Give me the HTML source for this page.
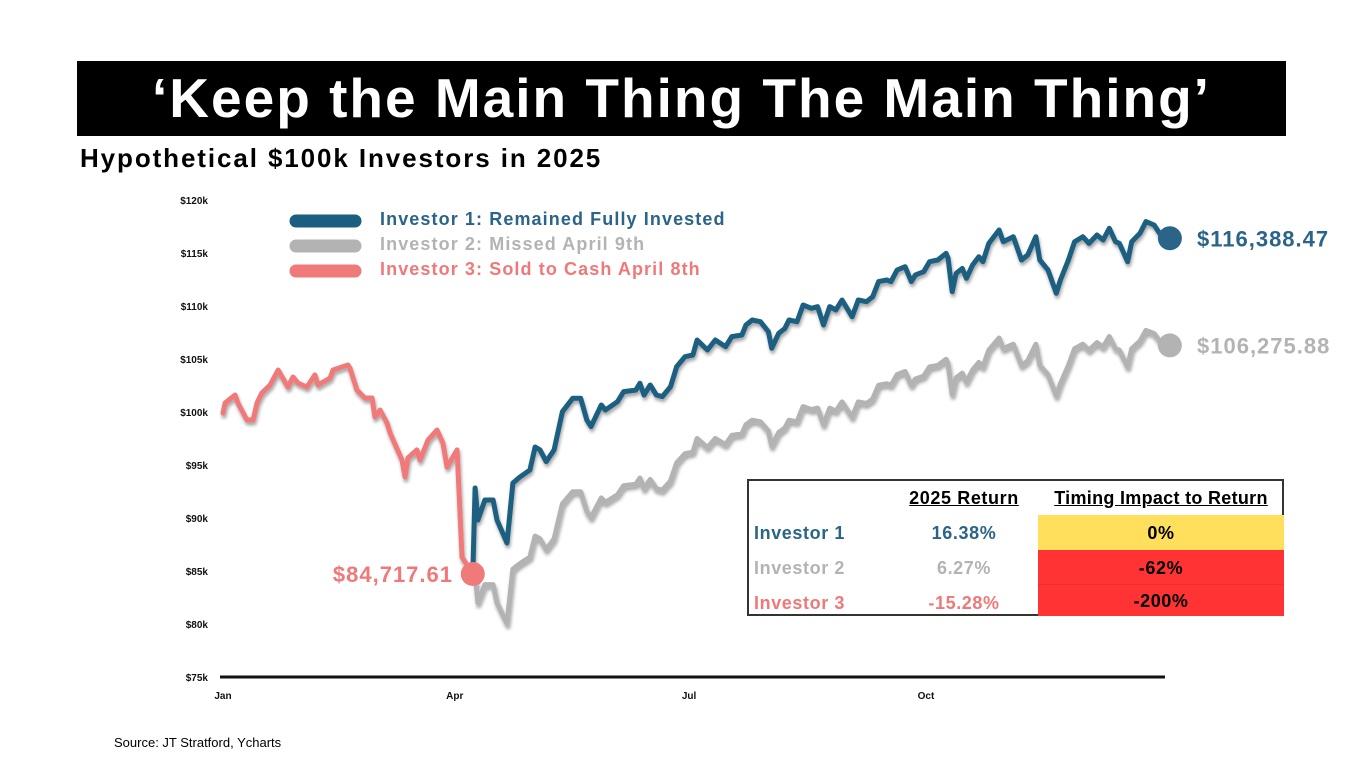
<!DOCTYPE html>
<html><head><meta charset="utf-8"><style>
body{margin:0;background:#fff;width:1363px;height:766px;overflow:hidden;position:relative;font-family:"Liberation Sans",sans-serif}
.abs{position:absolute}
#tbl{position:absolute;left:747px;top:479px;width:537px;height:137px;border:2px solid #333;box-sizing:border-box}
.cell{position:absolute;font-weight:bold;font-size:18px;line-height:35px;letter-spacing:0.6px;white-space:nowrap}
</style></head><body>
<div class="abs" style="left:77px;top:61px;width:1209px;height:75px;background:#000;color:#fff;font-weight:bold;font-size:55px;text-align:center;line-height:75px;letter-spacing:2px">‘Keep the Main Thing The Main Thing’</div>
<div class="abs" style="left:80px;top:143px;font-weight:bold;font-size:26px;letter-spacing:1.9px;color:#000">Hypothetical $100k Investors in 2025</div>
<svg class="abs" style="left:0;top:0" width="1363" height="766" id="chart">
<defs><filter id="sh" x="-5%" y="-5%" width="110%" height="115%"><feDropShadow dx="1" dy="3" stdDeviation="1.5" flood-color="#000" flood-opacity="0.35"/></filter></defs>
</svg>
<div id="tbl">
<div class="cell" style="left:145px;width:140px;text-align:center;top:0;text-decoration:underline">2025 Return</div>
<div class="cell" style="left:286px;width:252px;text-align:center;top:0;text-decoration:underline;letter-spacing:0.3px">Timing Impact to Return</div>
<div class="abs" style="left:289px;top:34px;width:246px;height:35px;background:#ffdf5c"></div>
<div class="abs" style="left:289px;top:69px;width:246px;height:35px;background:#ff3333;border-bottom:1px solid #e83030;box-sizing:border-box"></div>
<div class="abs" style="left:289px;top:104px;width:246px;height:31px;background:#ff3333"></div>
<div class="cell" style="left:5px;top:35px;color:#2a6488">Investor 1</div>
<div class="cell" style="left:5px;top:70px;color:#b3b3b3">Investor 2</div>
<div class="cell" style="left:5px;top:105px;color:#f07878">Investor 3</div>
<div class="cell" style="left:150px;width:130px;text-align:center;top:35px;color:#2a6488">16.38%</div>
<div class="cell" style="left:150px;width:130px;text-align:center;top:70px;color:#b3b3b3">6.27%</div>
<div class="cell" style="left:150px;width:130px;text-align:center;top:105px;color:#f07878">-15.28%</div>
<div class="cell" style="left:289px;width:246px;text-align:center;top:35px">0%</div>
<div class="cell" style="left:289px;width:246px;text-align:center;top:70px">-62%</div>
<div class="cell" style="left:289px;width:246px;text-align:center;top:103px">-200%</div>
</div>
<div class="abs" style="left:114px;top:735px;font-size:13px;color:#000">Source: JT Stratford, Ycharts</div>
<script>
const yTicks=[120,115,110,105,100,95,90,85,80,75];
const xTickLabels=["Jan","Apr","Jul","Oct"];
const xTickDays=[0,90,181,273];
const pinkDays=[0,0.8,4.7,5.8,9.3,11.7,13.2,15.1,18.3,21.4,25.2,27.2,29.1,32.6,35.7,36.9,41.6,42.7,48.5,49.3,52,55.1,57.9,59,61,63.7,64.9,69.5,70.7,71.8,75.3,76.5,79.6,83.1,85.4,87,90.9,92.8,97];
const pinkVals=[99.9,100.85,101.6,100.85,99.25,99.25,100.85,101.8,102.55,103.96,102.36,103.3,102.74,102.36,103.5,102.55,103.2,103.96,104.43,104.15,102.08,101.32,101.32,99.53,100.19,98.96,98.02,95.47,93.87,95.66,96.42,95.47,97.36,98.3,97.08,94.81,96.42,86.3,84.72];
const blueDays=[97,97.9,99,101.7,104.9,106.4,110.3,112.6,115.3,119.2,121.2,123.1,125.5,128.6,131.8,135.8,138.9,141.3,142.9,146.9,148.5,153.2,155.6,160.3,161.9,163.5,165.9,168.3,170.6,173.8,176.2,179.4,182.5,184.1,188.1,191.2,195.2,197.6,201.5,203.1,205.5,208.7,211.8,213.1,215.8,218.2,219.8,222.9,225.3,228.5,230.9,233.2,235.6,238,240.4,244.3,246.7,249.9,252.3,254.6,257.8,259.4,261.8,264.9,267.3,268.9,272.1,274.4,277.6,280.8,281.6,283.2,284.7,287.1,288.7,291.1,293.5,295.1,297.4,301.4,303,306.9,310.1,312.5,315.7,317.2,320.4,323.6,325.2,328.3,330.7,333.9,336.3,339.4,341.8,344.2,346.6,348.1,351.3,352.9,356.1,358.4,361.6,365];
const blueVals=[84.72,92.83,89.81,91.7,91.7,89.81,87.64,93.3,93.87,94.53,96.7,96.42,95.32,96.42,100.03,101.29,101.29,99.25,98.62,100.66,100.19,100.97,101.92,102.07,102.71,101.6,102.55,101.6,101.45,102.39,104.28,105.22,105.38,106.79,105.85,106.79,106.16,107.11,107.26,108.21,108.68,108.52,107.58,106.01,107.42,107.89,108.68,108.52,110.09,109.78,109.94,108.21,109.94,109.62,110.57,108.99,110.57,110.41,110.88,112.3,112.45,112.3,113.4,113.71,112.3,112.93,113.24,114.18,114.34,114.97,114.5,111.35,113.08,113.55,112.61,113.87,114.65,114.18,115.91,117.17,116.07,116.54,114.34,114.81,116.54,114.34,113.4,111.2,112.45,114.34,116.07,116.54,115.91,116.7,116.23,117.33,116.07,115.91,114.18,116.07,116.86,117.96,117.64,116.39];
const grayVals=[84.72,84.75,82.0,83.72,83.72,82.0,80.02,85.18,85.7,86.31,88.29,88.03,87.03,88.03,91.33,92.48,92.48,90.62,90.04,91.9,91.47,92.19,93.05,93.19,93.77,92.76,93.63,92.76,92.62,93.48,95.21,96.07,96.21,97.5,96.64,97.5,96.92,97.79,97.93,98.8,99.23,99.08,98.22,96.79,98.07,98.5,99.23,99.08,100.51,100.23,100.37,98.8,100.37,100.08,100.95,99.51,100.95,100.8,101.23,102.53,102.67,102.53,103.53,103.82,102.53,103.11,103.39,104.25,104.39,104.97,104.54,101.66,103.24,103.67,102.81,103.96,104.68,104.25,105.83,106.98,105.97,106.4,104.39,104.82,106.4,104.39,103.53,101.53,102.67,104.39,105.97,106.4,105.83,106.55,106.12,107.12,105.97,105.83,104.25,105.97,106.69,107.7,107.4,106.28];
const legendLabels=["Investor 1: Remained Fully Invested","Investor 2: Missed April 9th","Investor 3: Sold to Cash April 8th"];
const endLabels=["$116,388.47","$106,275.88","$84,717.61"];
const C={blue:"#1a5e80",gray:"#b3b3b3",pink:"#f07a7a"};
const X=d=>223+d*2.575, Y=v=>200+(120-v)*10.6;
const svg=document.getElementById('chart'),NS="http://www.w3.org/2000/svg";
function mk(t,a){const e=document.createElementNS(NS,t);for(const k in a)e.setAttribute(k,a[k]);svg.appendChild(e);return e;}
yTicks.forEach(v=>{const t=mk('text',{x:208,y:Y(v)+4,'text-anchor':'end','font-size':10,'font-weight':'bold',fill:'#111'});t.textContent='$'+v+'k';

});
const ax=mk('line',{x1:220,x2:1165,y1:Y(75),y2:Y(75),stroke:'#111','stroke-width':3});


xTickLabels.forEach((l,i)=>{const t=mk('text',{x:X(xTickDays[i]),y:699,'text-anchor':'middle','font-size':10,'font-weight':'bold',fill:'#111'});t.textContent=l;

});
function line(days,vals,col,name){const p=mk('path',{d:days.map((d,i)=>(i?'L':'M')+X(d).toFixed(1)+','+Y(vals[i]).toFixed(1)).join(''),fill:'none',stroke:col,'stroke-width':5,'stroke-linejoin':'round','stroke-linecap':'round',filter:'url(#sh)'});

}
line(blueDays,grayVals,C.gray,'investor-2-line');
line(blueDays,blueVals,C.blue,'investor-1-line');
line(pinkDays,pinkVals,C.pink,'investor-3-line');
const ends=[[blueDays[blueDays.length-1],blueVals[blueVals.length-1],C.blue,1197,'start','#2a6488'],[blueDays[blueDays.length-1],grayVals[grayVals.length-1],C.gray,1197,'start','#b3b3b3'],[pinkDays[pinkDays.length-1],pinkVals[pinkVals.length-1],C.pink,453,'end','#f07878']];
ends.forEach((e,i)=>{const c=mk('circle',{cx:X(e[0])+(i<2?7:0),cy:Y(e[1]),r:12,fill:i==0?'#2a6488':e[2]});


const t=mk('text',{x:e[3],y:Y(e[1])+8,'text-anchor':e[4],'font-size':22,'font-weight':'bold','letter-spacing':1,fill:e[5]});t.textContent=endLabels[i];

});
[C.blue,C.gray,C.pink].forEach((c,i)=>{const y=221+i*25;const l=mk('line',{x1:296,x2:355,y1:y,y2:y,stroke:c,'stroke-width':13,'stroke-linecap':'round'});


const t=mk('text',{x:380,y:y+4,'font-size':18,'font-weight':'bold','letter-spacing':1.1,fill:i==0?'#2a6488':(i==1?'#b3b3b3':'#f07878')});t.textContent=legendLabels[i];

});
</script>
</body></html>
